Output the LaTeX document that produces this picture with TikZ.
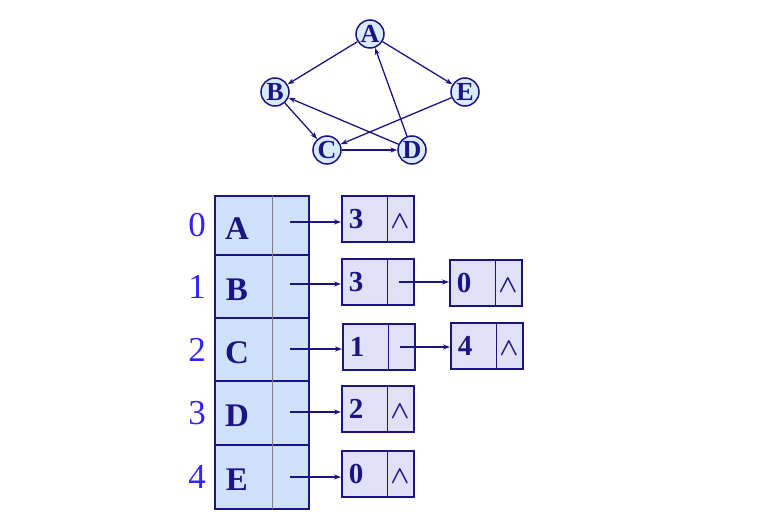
\documentclass[tikz,border=0pt]{standalone}
\usepackage{fontspec}
\setmainfont{Liberation Serif}
\usetikzlibrary{arrows.meta,calc}
\definecolor{navy}{RGB}{28,20,130}
\definecolor{tablefill}{RGB}{207,225,250}
\definecolor{listfill}{RGB}{224,224,248}
\definecolor{idxblue}{RGB}{51,34,255}
\definecolor{circfill}{RGB}{214,234,250}
\definecolor{divgray}{RGB}{128,128,128}
\tikzset{
  vert/.style={circle, draw=navy, fill=circfill, line width=1.5pt, minimum size=28pt, inner sep=0pt,
    text=navy, font=\fontsize{26}{26}\selectfont\bfseries},
  gedge/.style={draw=navy, line width=1.3pt, -{Stealth[length=7pt,width=5pt]}},
  rowbox/.style={rectangle, draw=navy, fill=tablefill, line width=2pt, minimum width=94pt, inner sep=0pt, anchor=north west},
  letter/.style={text=navy, font=\fontsize{33}{33}\selectfont\bfseries, inner sep=0pt},
  idx/.style={text=idxblue, font=\fontsize{35}{35}\selectfont, inner sep=0pt},
  lbox/.style={rectangle, draw=navy, fill=listfill, line width=2pt, minimum width=72pt, minimum height=46pt, inner sep=0pt, anchor=north west},
  ltext/.style={text=navy, font=\fontsize{29}{29}\selectfont\bfseries, inner sep=0pt},
  wedgetext/.style={text=navy, font=\fontsize{28}{28}\selectfont\boldmath, inner sep=0pt},
  ptr/.style={draw=navy, line width=1.8pt, -{Stealth[length=7pt,width=5pt]}},
}
% name, left, top, text, wedge(1) or pointer(0)
\newcommand\lnode[5]{%
  \node[lbox] (#1) at (#2,#3) {};
  \draw[navy, line width=1pt] ($(#1.north west)+(46,0)$) -- ($(#1.south west)+(46,0)$);
  \node[ltext] (#1t) at ($(#1.west)+(15,0)$) {#4};
  \ifnum#5=1
    \node[wedgetext] (#1w) at ($(#1.west)+(59,3)$) {$\wedge$};
  \else
    \coordinate (#1p) at ($(#1.west)+(58,0)$);
  \fi
}
\begin{document}
\begin{tikzpicture}[x=1pt,y=-1pt]
\useasboundingbox (0,0) rectangle (772,516);

% ---- graph ----
\node[vert] (A) at (370,34) {A};
\node[vert] (B) at (275,92) {B};
\node[vert] (E) at (465,92) {E};
\node[vert] (C) at (327,150) {C};
\node[vert] (D) at (412,150) {D};
\draw[gedge] (A) -- (B);
\draw[gedge] (A) -- (E);
\draw[gedge] (B) -- (C);
\draw[gedge] (C) -- (D);
\draw[gedge] (D) -- (A);
\draw[gedge] (D) -- (B);
\draw[gedge] (E) -- (C);

% ---- table ----
\node[rowbox, minimum height=59pt] (r0) at (214,195) {};
\node[rowbox, minimum height=63pt] (r1) at (214,254) {};
\node[rowbox, minimum height=63pt] (r2) at (214,317) {};
\node[rowbox, minimum height=64pt] (r3) at (214,380) {};
\node[rowbox, minimum height=64pt] (r4) at (214,444) {};
\draw[divgray, line width=1pt] (r0.north west)++(58,1) coordinate (dtop) -- ($(r4.south west)+(58,-1)$);

\foreach \r/\L/\i in {0/A/0,1/B/1,2/C/2,3/D/3,4/E/4}{
  \node[letter] (L\r) at ($(r\r.west)+(23,3)$) {\L};
  \node[idx] (I\r) at ($(r\r.west)+(-17,0)$) {\i};
}
\coordinate (P0) at (290,222);
\coordinate (P1) at (290,284);
\coordinate (P2) at (290,349);
\coordinate (P3) at (290,412);
\coordinate (P4) at (290,477);

% ---- lists ----
\lnode{a0}{341}{195}{3}{1}
\lnode{b0}{341}{258}{3}{0}
\lnode{b1}{449}{259}{0}{1}
\lnode{c0}{342}{323}{1}{0}
\lnode{c1}{450}{322}{4}{1}
\lnode{d0}{341}{385}{2}{1}
\lnode{e0}{341}{450}{0}{1}

\draw[ptr] (P0) -- (P0 -| a0.west);
\draw[ptr] (P1) -- (P1 -| b0.west);
\draw[ptr] (P2) -- (P2 -| c0.west);
\draw[ptr] (P3) -- (P3 -| d0.west);
\draw[ptr] (P4) -- (P4 -| e0.west);
\draw[ptr] (b0p) -- (b0p -| b1.west);
\draw[ptr] (c0p) -- (c0p -| c1.west);
\end{tikzpicture}
\end{document}
